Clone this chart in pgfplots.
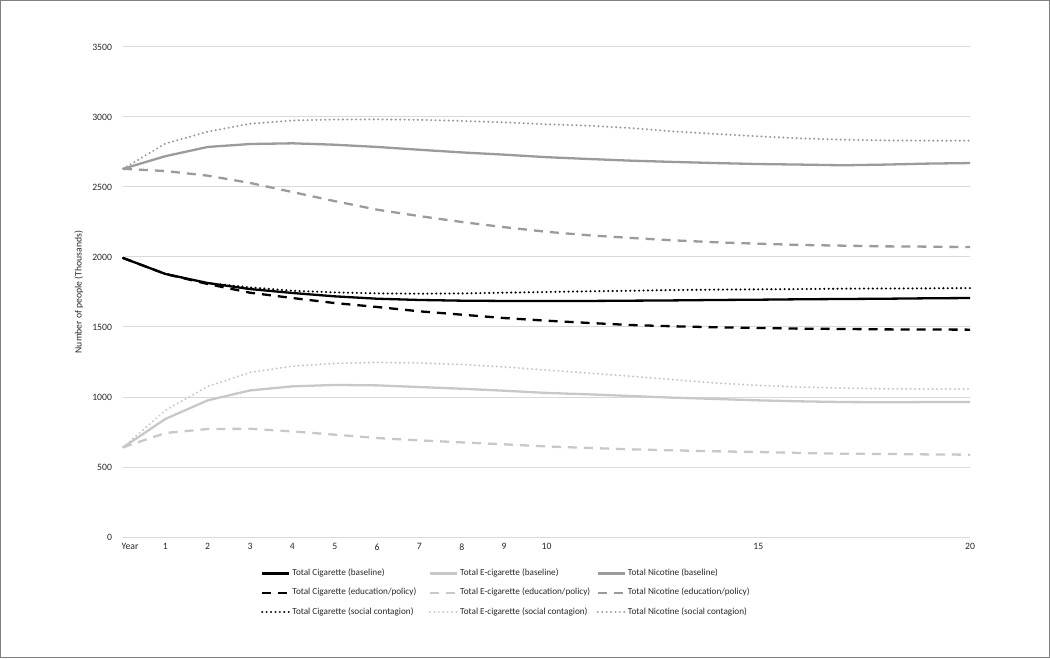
\documentclass[border=0pt]{standalone}
\usepackage{fontspec}
\setmainfont{Carlito}
\usepackage{pgfplots}
\usepackage{pgfplotstable}
\pgfplotsset{compat=1.18}

\definecolor{nic}{RGB}{155,155,155}
\definecolor{ecig}{RGB}{200,200,200}
\definecolor{txt}{RGB}{40,40,40}
\definecolor{gridc}{RGB}{217,217,217}
\definecolor{framec}{RGB}{128,128,128}

% years 0..20, thousands of people
\pgfplotstableread{
t  cigB ecigB nicB cigE ecigE nicE cigS ecigS nicS
0  1993 640  2630 1993 640 2630 1993 640  2630
1  1879 843  2720 1879 743 2614 1879 905  2810
2  1814 976  2786 1807 771 2581 1814 1075 2895
3  1771 1047 2807 1745 773 2529 1783 1176 2952
4  1743 1076 2812 1707 754 2464 1759 1220 2975
5  1719 1086 2802 1671 731 2399 1747 1240 2982
6  1702 1083 2786 1643 707 2338 1740 1247 2983
7  1693 1071 2766 1612 690 2292 1738 1243 2980
8  1688 1059 2747 1588 676 2250 1740 1232 2972
9  1686 1045 2731 1564 662 2213 1745 1215 2962
10 1686 1029 2713 1545 647 2180 1750 1192 2948
11 1686 1019 2700 1529 636 2155 1755 1171 2938
12 1688 1007 2688 1514 626 2136 1759 1148 2921
13 1690 995  2679 1505 619 2119 1764 1124 2897
14 1693 986  2671 1498 612 2105 1767 1100 2879
15 1695 976  2664 1493 607 2095 1769 1083 2862
16 1698 969  2660 1488 600 2086 1771 1071 2847
17 1700 964  2655 1486 595 2081 1774 1064 2838
18 1702 962  2660 1483 593 2076 1775 1059 2833
19 1705 964  2667 1482 590 2074 1776 1057 2831
20 1707 964  2671 1481 588 2071 1778 1057 2831
}\datatable

\tikzset{
  dashline/.style={dash pattern=on 9pt off 7pt},
  dotline/.style={dash pattern=on 0.01pt off 4.4pt, line cap=round},
}

\begin{document}
\begin{tikzpicture}
\begin{axis}[
    name=ax,
    scale only axis,
    width=847pt, height=490pt,
    xmin=0, xmax=20, ymin=0, ymax=3500,
    clip=false,
    xtick={1,...,10,15,20},
    ytick={0,500,...,3500},
    extra x ticks={0},
    extra x tick labels={Year},
    extra x tick style={tick label style={xshift=7pt}},
    ymajorgrids,
    grid style={gridc, line width=1pt},
    axis line style={draw=none},
    major tick length=0pt,
    /pgf/number format/assume math mode=true,
    /pgf/number format/1000 sep={},
    tick label style={font=\fontsize{9.7}{11}\selectfont, text=txt},
    yticklabel style={xshift=-7.5pt},
    xticklabel style={yshift=-3pt},
    ylabel={Number of people (Thousands)},
    every axis y label/.style={at={(axis description cs:-0.052,0.5)},
        rotate=90, anchor=center, font=\fontsize{9.7}{11}\selectfont, text=txt},
    legend columns=3,
    legend style={draw=none, fill=none, at={(axis description cs:0.163,0)},
        anchor=north west, yshift=-32pt, inner sep=0pt, outer sep=0pt,
        row sep=10.4pt,
        nodes={inner sep=0pt, text height=6.5pt, text depth=2.5pt,
            font=\fontsize{9.2}{11}\selectfont, text=txt}},
    legend image code/.code={\draw[#1] (0pt,0pt) -- (27pt,0pt);},
    every axis plot/.append style={line width=2.3pt, line join=round},
]

\addplot[black] table[x=t, y=cigB] {\datatable};
\addlegendentry{\makebox[138.5pt][l]{\hspace{2pt}Total Cigarette (baseline)}}
\addplot[ecig] table[x=t, y=ecigB] {\datatable};
\addlegendentry{\makebox[138.5pt][l]{\hspace{2pt}Total E-cigarette (baseline)}}
\addplot[nic] table[x=t, y=nicB] {\datatable};
\addlegendentry{\makebox[138.5pt][l]{\hspace{2pt}Total Nicotine (baseline)}}

\addplot[black, dashline] table[x=t, y=cigE] {\datatable};
\addlegendentry{\makebox[138.5pt][l]{\hspace{2pt}Total Cigarette (education/policy)}}
\addplot[ecig, dashline] table[x=t, y=ecigE] {\datatable};
\addlegendentry{\makebox[138.5pt][l]{\hspace{2pt}Total E-cigarette (education/policy)}}
\addplot[nic, dashline] table[x=t, y=nicE] {\datatable};
\addlegendentry{\makebox[138.5pt][l]{\hspace{2pt}Total Nicotine (education/policy)}}

\addplot[black, dotline] table[x=t, y=cigS] {\datatable};
\addlegendentry{\makebox[138.5pt][l]{\hspace{2pt}Total Cigarette (social contagion)}}
\addplot[ecig, dotline] table[x=t, y=ecigS] {\datatable};
\addlegendentry{\makebox[138.5pt][l]{\hspace{2pt}Total E-cigarette (social contagion)}}
\addplot[nic, dotline] table[x=t, y=nicS] {\datatable};
\addlegendentry{\makebox[138.5pt][l]{\hspace{2pt}Total Nicotine (social contagion)}}

\end{axis}
\pgfresetboundingbox
\path ([xshift=-123pt,yshift=-121pt]ax.south west) rectangle ([xshift=80pt,yshift=47pt]ax.north east);
\draw[framec, line width=1pt] ([xshift=-122.5pt,yshift=-120.5pt]ax.south west) rectangle ([xshift=79.5pt,yshift=46.5pt]ax.north east);
\end{tikzpicture}
\end{document}
